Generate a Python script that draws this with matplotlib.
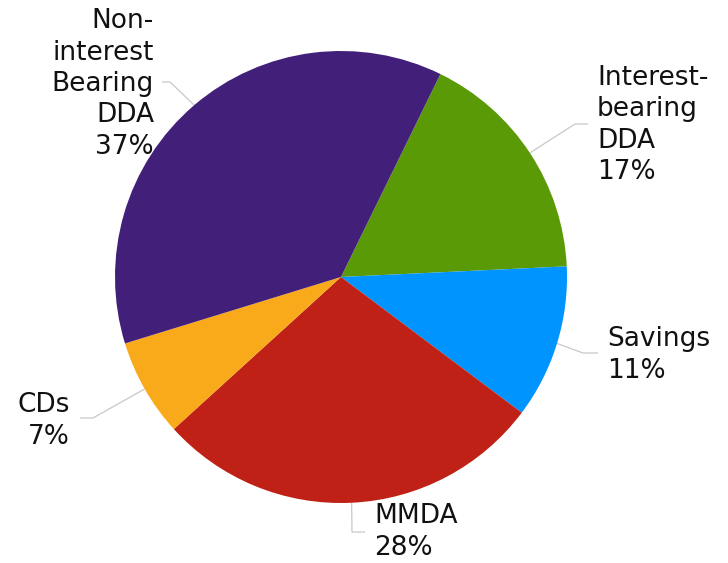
import numpy as np
import matplotlib
matplotlib.use("Agg")
import matplotlib.pyplot as plt

categories = ["Interest-\nbearing\nDDA", "Savings", "MMDA", "CDs", "Non-\ninterest\nBearing\nDDA"]
values = [17, 11, 28, 7, 37]
colors = ["#5B9A07", "#0094FF", "#C02116", "#F9AA1B", "#42207A"]

W, H = 728, 563
fig = plt.figure(figsize=(W / 100, H / 100), dpi=100)
ax = fig.add_axes([0, 0, 1, 1])

cx, cy, R = 341, H - 277, 226
wedges, _ = ax.pie(values, colors=colors, startangle=63.9, counterclock=False,
                   center=(cx, cy), radius=R, frame=True,
                   wedgeprops=dict(linewidth=0))
ax.set_xlim(0, W)
ax.set_ylim(0, H)
ax.set_aspect("equal")
ax.axis("off")

# layout: (elbow x, elbow y, line end x, text x, text y, ha)
layout = [
    (575, 124, 588, 597, 125, "left"),
    (583, 353, 598, 607, 355, "left"),
    (352, 532, 365, 374, 532, "left"),
    (93, 418, 80, 70, 421, "right"),
    (170, 82, 162, 154, 84, "right"),
]

for w, cat, val, (ex, ey, lx, tx, ty, ha) in zip(wedges, categories, values, layout):
    mid = np.deg2rad((w.theta1 + w.theta2) / 2)
    sx, sy = cx + R * np.cos(mid), cy + R * np.sin(mid)
    ax.plot([sx, ex, lx], [sy, H - ey, H - ey], color="#C8C8C8", lw=0.9,
            solid_capstyle="butt", zorder=0.5)
    ax.text(tx, H - ty, f"{cat}\n{val}%", ha=ha, va="center", multialignment=ha,
            fontsize=19, color="#111111", family="DejaVu Sans", linespacing=1.27)

fig.savefig("out.png", dpi=100)
